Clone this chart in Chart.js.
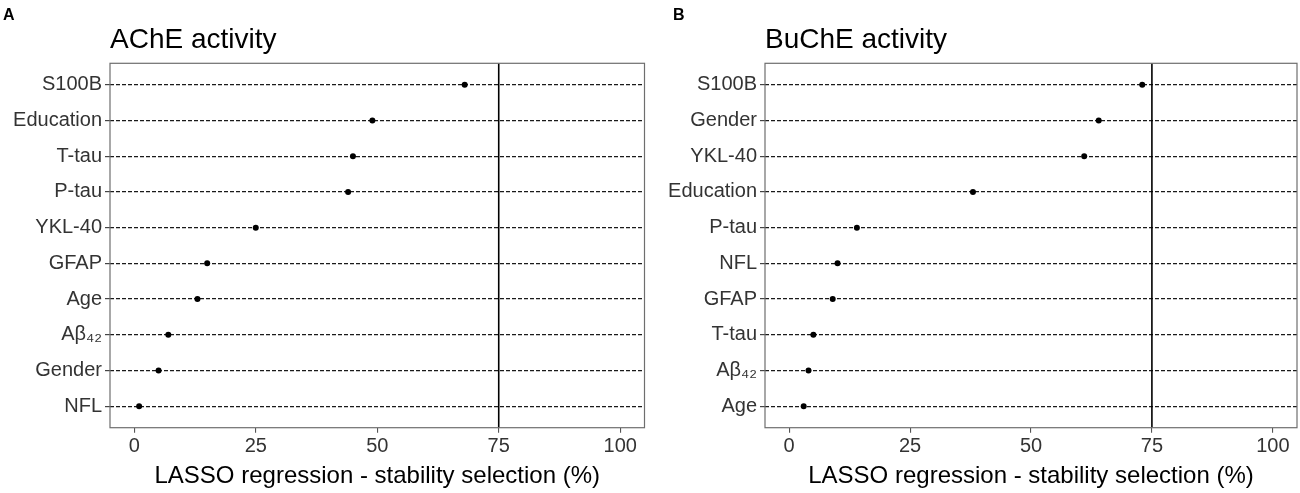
<!DOCTYPE html>
<html>
<head>
<meta charset="utf-8">
<script src="https://cdn.jsdelivr.net/npm/chart.js@4.4.1/dist/chart.umd.min.js"></script>
<style>
  html, body { margin: 0; padding: 0; background: #fff; }
  #wrap { position: relative; width: 1300px; height: 493px; overflow: hidden; }
  canvas { position: absolute; top: 0; }
  #c1 { left: 0; }
  #c2 { left: 650px; }
</style>
</head>
<body>
<div id="wrap">
  <canvas id="c1" width="650" height="493"></canvas>
  <canvas id="c2" width="650" height="493"></canvas>
</div>
<script>
// ---- data ----
const acheLabels = ["S100B", "Education", "T-tau", "P-tau", "YKL-40", "GFAP", "Age", "Aβ₄₂", "Gender", "NFL"];
const acheValues = [68, 49, 45, 44, 25, 15, 13, 7, 5, 1];
const bucheLabels = ["S100B", "Gender", "YKL-40", "Education", "P-tau", "NFL", "GFAP", "T-tau", "Aβ₄₂", "Age"];
const bucheValues = [73, 64, 61, 38, 14, 10, 9, 5, 4, 3];
const xTicks = [0, 25, 50, 75, 100];
const threshold = 75;
const xTitle = "LASSO regression - stability selection (%)";

const FONT = "'Liberation Sans', Arial, Helvetica, sans-serif";

function makeChart(id, letter, title, labels, values, yWidth, padRight, letterX) {
  const panelPlugin = {
    id: 'panel' + id,
    beforeDatasetsDraw(chart) {
      const ctx = chart.ctx, a = chart.chartArea, xs = chart.scales.x;
      const px = xs.getPixelForValue(threshold);
      ctx.save();
      ctx.strokeStyle = '#000';
      ctx.lineWidth = 1.6;
      ctx.beginPath();
      ctx.moveTo(px, a.top);
      ctx.lineTo(px, a.bottom);
      ctx.stroke();
      ctx.restore();
    },
    afterDraw(chart) {
      const ctx = chart.ctx, a = chart.chartArea;
      ctx.save();
      ctx.strokeStyle = '#6e6e6e';
      ctx.lineWidth = 1.2;
      ctx.strokeRect(a.left, a.top, a.right - a.left, a.bottom - a.top);
      ctx.fillStyle = '#000';
      ctx.font = "bold 16px " + FONT;
      ctx.textAlign = 'left';
      ctx.textBaseline = 'alphabetic';
      ctx.fillText(letter, letterX, 19.5);
      ctx.restore();
    }
  };

  return new Chart(document.getElementById(id), {
    type: 'scatter',
    data: {
      datasets: [{
        data: values.map((v, i) => ({ x: v, y: i })),
        pointRadius: 3,
        pointHoverRadius: 3,
        backgroundColor: '#000',
        borderWidth: 0
      }]
    },
    options: {
      responsive: false,
      animation: false,
      events: [],
      layout: { padding: { left: 0, right: padRight, top: 0, bottom: 0 } },
      plugins: {
        legend: { display: false },
        tooltip: { enabled: false },
        title: {
          display: true,
          text: title,
          align: 'start',
          fullSize: false,
          color: '#000',
          font: { family: FONT, size: 28, weight: 'normal', lineHeight: 1.2 },
          padding: { top: 23, bottom: 6.7 }
        }
      },
      scales: {
        x: {
          type: 'linear',
          min: -5,
          max: 105,
          afterBuildTicks: s => { s.ticks = xTicks.map(v => ({ value: v })); },
          afterFit: s => { s.height = 65.3; },
          grid: { drawOnChartArea: false, drawTicks: true, tickLength: 5, color: '#555', tickColor: '#555', lineWidth: 1.1 },
          border: { display: false },
          ticks: { color: '#333', font: { family: FONT, size: 20 }, padding: 2, maxRotation: 0 },
          title: {
            display: true,
            text: xTitle,
            color: '#000',
            font: { family: FONT, size: 24, lineHeight: 1.2 },
            padding: { top: 0, bottom: 2 }
          }
        },
        y: {
          type: 'linear',
          reverse: true,
          min: -0.6,
          max: labels.length - 0.4,
          afterBuildTicks: s => { s.ticks = labels.map((_, i) => ({ value: i })); },
          afterFit: s => { s.width = yWidth; },
          grid: { drawTicks: true, tickLength: 5, color: '#1a1a1a', tickColor: '#444', lineWidth: 1.2 },
          border: { display: false, dash: [4, 2] },
          ticks: {
            color: '#333',
            font: { family: FONT, size: 20 },
            padding: 3,
            callback: v => labels[v]
          }
        }
      }
    },
    plugins: [panelPlugin]
  });
}

makeChart('c1', 'A', 'AChE activity', acheLabels, acheValues, 110, 5.5, 3);
makeChart('c2', 'B', 'BuChE activity', bucheLabels, bucheValues, 115, 1.6, 23);
</script>
</body>
</html>
